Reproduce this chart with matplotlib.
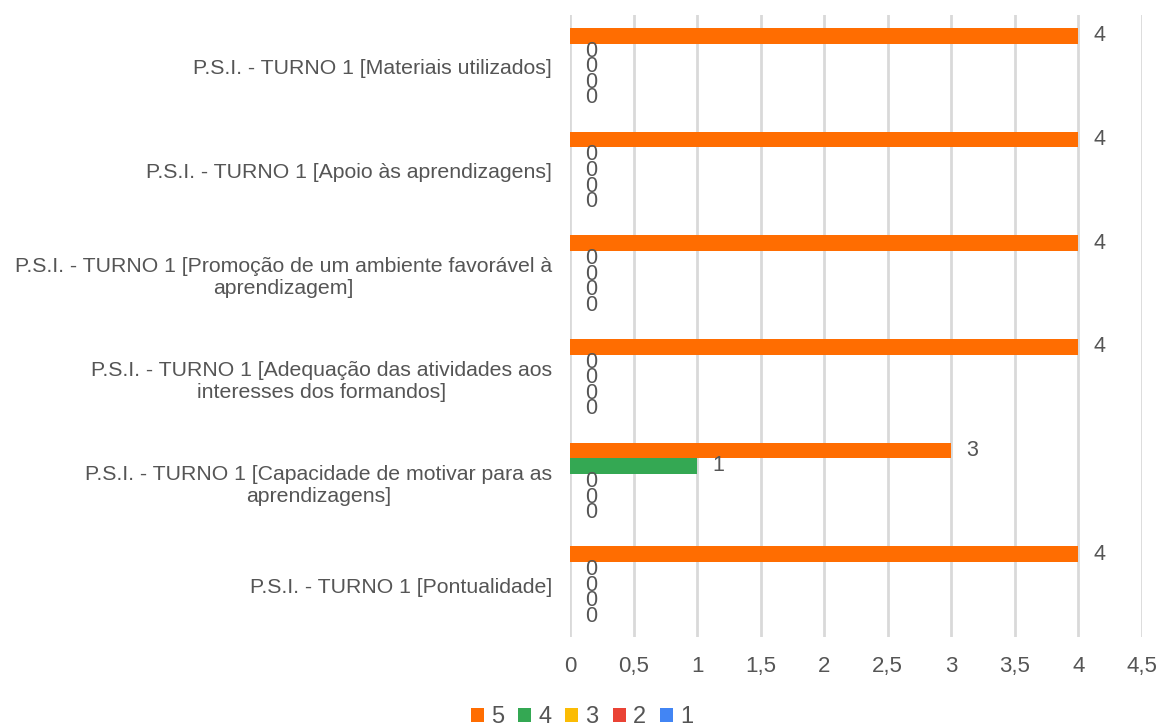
import matplotlib.pyplot as plt
import numpy as np

plt.rcParams['font.family'] = ['Liberation Sans', 'DejaVu Sans']

categories = [
    "P.S.I. - TURNO 1 [Materiais utilizados]",
    "P.S.I. - TURNO 1 [Apoio às aprendizagens]",
    "P.S.I. - TURNO 1 [Promoção de um ambiente favorável à\naprendizagem]",
    "P.S.I. - TURNO 1 [Adequação das atividades aos\ninteresses dos formandos]",
    "P.S.I. - TURNO 1 [Capacidade de motivar para as\naprendizagens]",
    "P.S.I. - TURNO 1 [Pontualidade]",
]
series_names = ["5", "4", "3", "2", "1"]
s5 = [4, 4, 4, 4, 3, 4]
s4 = [0, 0, 0, 0, 1, 0]
s3 = [0, 0, 0, 0, 0, 0]
s2 = [0, 0, 0, 0, 0, 0]
s1 = [0, 0, 0, 0, 0, 0]
colors = ['#FF6D01', '#34A853', '#FBBC04', '#EA4335', '#4285F4']
xticks = [0, 0.5, 1, 1.5, 2, 2.5, 3, 3.5, 4, 4.5]
xtick_labels = ["0", "0,5", "1", "1,5", "2", "2,5", "3", "3,5", "4", "4,5"]

text_color = '#555555'

fig = plt.figure(figsize=(11.61, 7.27), dpi=100)
ax = fig.add_axes([570 / 1161, 1 - 637 / 727, 572 / 1161, 622 / 727])

y = np.arange(len(categories))
h = 0.15
all_series = [s5, s4, s3, s2, s1]
for i, (vals, name, c) in enumerate(zip(all_series, series_names, colors)):
    pos = y - 2 * h + i * h
    ax.barh(pos, vals, height=h, color=c, label=name, zorder=3)
    for p, v in zip(pos, vals):
        ax.annotate(str(v), (v, p), xytext=(11, 0), textcoords='offset points',
                    ha='left', va='center', fontsize=15.5, color=text_color)

ax.set_ylim(len(categories) - 0.5, -0.5)
ax.set_xlim(0, 4.5)
ax.set_yticks(y)
ax.set_yticklabels(categories, fontsize=15.3, color=text_color, multialignment='center')
ax.set_xticks(xticks)
ax.set_xticklabels(xtick_labels, fontsize=16, color=text_color)
ax.tick_params(axis='both', length=0)
ax.tick_params(axis='y', pad=13)
ax.tick_params(axis='x', pad=14)
ax.grid(axis='x', color='#d9d9d9', linewidth=2, zorder=0)
for s in ax.spines.values():
    s.set_visible(False)

ax.legend(loc='center', bbox_to_anchor=(582 / 1161, 1 - 717 / 727), bbox_transform=fig.transFigure,
          ncol=5, frameon=False, fontsize=17, handlelength=0.55, handleheight=0.55,
          handletextpad=0.3, columnspacing=0.6, labelcolor=text_color,
          borderpad=0, borderaxespad=0)

fig.savefig('out.png', dpi=100)
